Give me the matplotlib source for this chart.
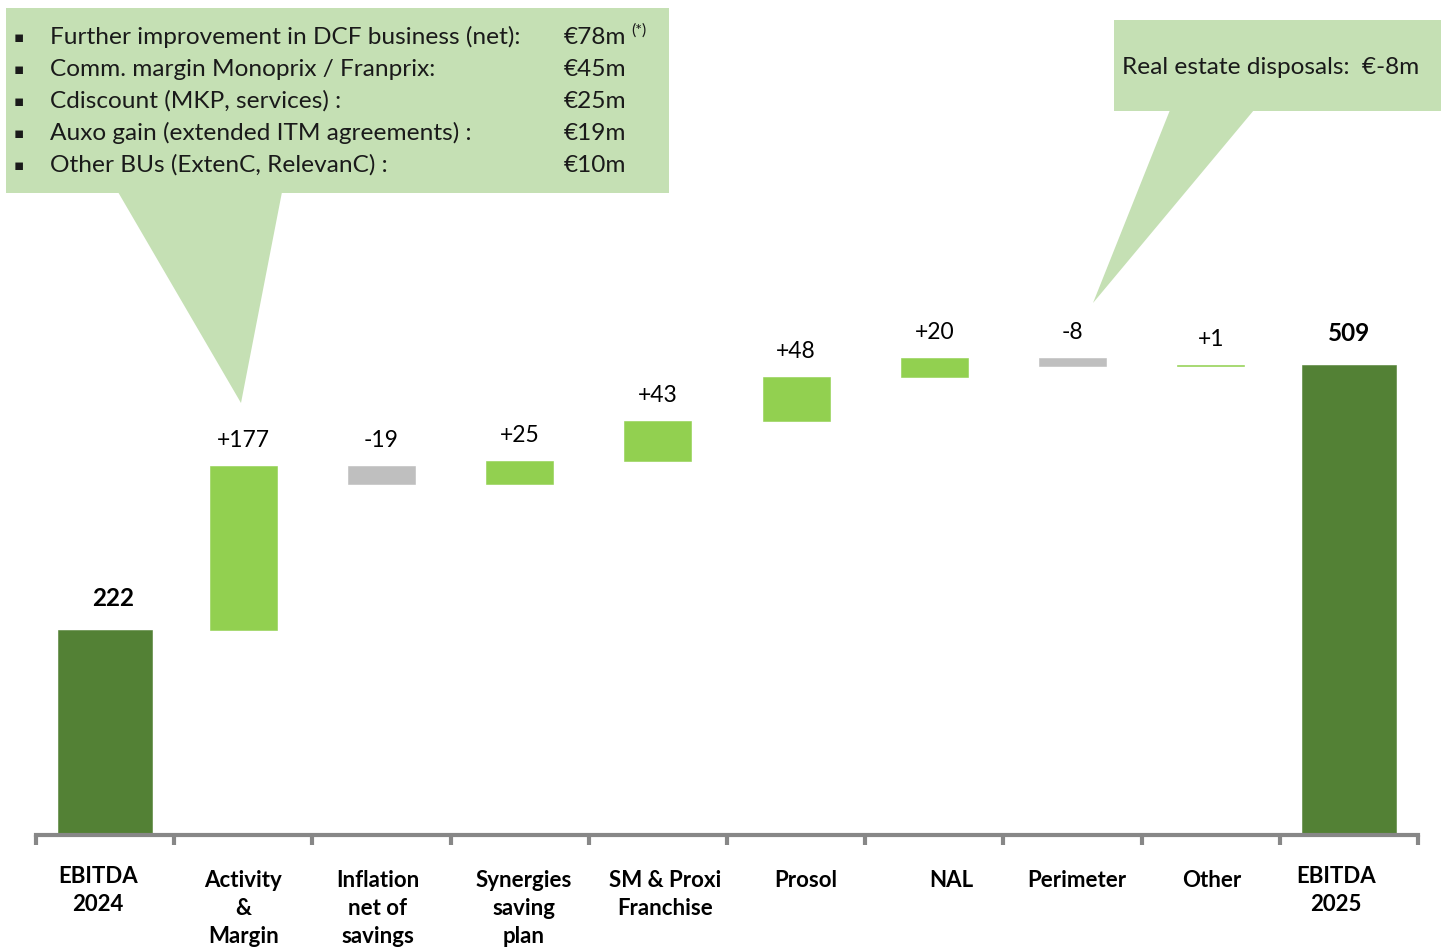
import numpy as np
import matplotlib.pyplot as plt
from matplotlib.patches import Polygon, Rectangle

plt.rcParams['font.family'] = ['Lato', 'DejaVu Sans']

# Données du pont EBITDA
categories = ['EBITDA\n2024', 'Activity\n&\nMargin', 'Inflation\nnet of\nsavings',
              'Synergies\nsaving\nplan', 'SM & Proxi\nFranchise', 'Prosol', 'NAL',
              'Perimeter', 'Other', 'EBITDA\n2025']
changes = [222, 177, -19, 25, 43, 48, 20, -8, 1, 509]
is_total = [True, False, False, False, False, False, False, False, False, True]
value_labels = ['222', '+177', '-19', '+25', '+43', '+48', '+20', '-8', '+1', '509']

left_items = ['Further improvement in DCF business (net):', 'Comm. margin Monoprix / Franprix:',
              'Cdiscount (MKP, services) :', 'Auxo gain (extended ITM agreements) :',
              'Other BUs (ExtenC, RelevanC) :']
left_amounts = ['€78m', '€45m', '€25m', '€19m', '€10m']
right_note = 'Real estate disposals:  €-8m'

DARK = '#538135'
POS = '#92D050'
NEG = '#BFBFBF'
BOX = '#C5E0B4'
W, H = 1441, 951

fig = plt.figure(figsize=(W / 100, H / 100), dpi=100)

# zone du graphique : axe de 36 px à 1418 px, base à y=835 px
ax = fig.add_axes([36 / W, (H - 835) / H, 1382 / W, 835 / H])
ax.set_xlim(-0.5, len(categories) - 0.5)
ax.set_ylim(0, 835 / 0.924)

# bases du waterfall
bottoms, heights, colors = [], [], []
running = 0
for ch, tot in zip(changes, is_total):
    if tot:
        bottoms.append(0)
        heights.append(ch)
        colors.append(DARK)
        running = ch
    else:
        bottoms.append(running if ch >= 0 else running + ch)
        heights.append(abs(ch))
        colors.append(POS if ch >= 0 else NEG)
        running += ch

x = np.arange(len(categories))
widths = [0.68 if t else 0.485 for t in is_total]
ax.bar(x, heights, bottom=bottoms, width=widths, color=colors,
       edgecolor=colors, linewidth=0.4, zorder=2)

# étiquettes de valeur
lbl_dx = [8, 0, 0, 0, 0, 0, 0, 0, 0, 0]
for i, (b, h, t) in enumerate(zip(bottoms, heights, value_labels)):
    bold = is_total[i]
    ax.annotate(t, (x[i], b + h), xytext=(lbl_dx[i], 20 if bold else 15),
                textcoords='offset pixels', ha='center', va='bottom',
                fontsize=17.5 if bold else 16.5, fontweight='bold' if bold else 'normal',
                color='black')

# axe
for s in ['top', 'right', 'left']:
    ax.spines[s].set_visible(False)
ax.spines['bottom'].set_color('#878787')
ax.spines['bottom'].set_linewidth(3)
ax.set_yticks([])
ax.set_xticks(np.arange(-0.5, len(categories)), minor=False)
ax.set_xticklabels([])
ax.tick_params(axis='x', length=7, width=3, color='#878787', direction='out')

cat_dx = [-7, 0, -4, 4, 7, 10, 17, 4, 1, -13]
for i, c in enumerate(categories):
    top = 866 if is_total[i] else 870
    fig.text((36 + (x[i] + 0.5) * 138.2 + cat_dx[i]) / W, 1 - top / H, c,
             ha='center', va='top', fontsize=16, fontweight='bold',
             linespacing=1.42, color='black')

# bulles de commentaire (coordonnées pixels)
ov = fig.add_axes([0, 0, 1, 1], zorder=5)
ov.set_xlim(0, W)
ov.set_ylim(H, 0)
ov.axis('off')
ov.patch.set_alpha(0)

ov.add_patch(Rectangle((6, 8), 663, 185, color=BOX, lw=0))
ov.add_patch(Polygon([(118, 192), (282, 192), (241, 403)], color=BOX, lw=0))
ov.add_patch(Rectangle((1114, 20), 327, 91, color=BOX, lw=0))
ov.add_patch(Polygon([(1170, 110), (1254, 110), (1093, 303)], color=BOX, lw=0))

for k, (item, amt) in enumerate(zip(left_items, left_amounts)):
    y = 37 + 32 * k
    ov.text(19, y, '▪', fontsize=11, va='center', ha='center', color='#1a1a1a',
            family=['DejaVu Sans'])
    ov.text(50, y, item, fontsize=17.6, va='center', ha='left', color='#1a1a1a')
    ov.text(564, y, amt, fontsize=17.6, va='center', ha='left', color='#1a1a1a')
ov.text(631, 31, '(*)', fontsize=11.5, va='center', ha='left', color='#1a1a1a')

ov.text(1122, 67, right_note, fontsize=17.6, va='center', ha='left', color='#1a1a1a')

plt.savefig('out.png', dpi=100)
